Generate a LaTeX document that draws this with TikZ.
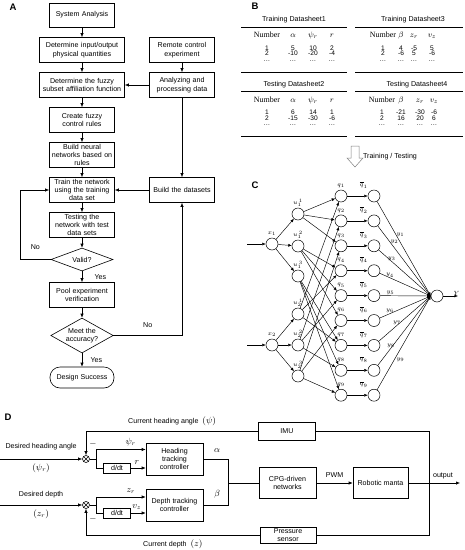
\documentclass[tikz,border=0pt]{standalone}
\usepackage{fontspec}
\setmainfont{Liberation Sans}
\newfontfamily\timesfont{Liberation Serif}
\usetikzlibrary{arrows.meta,shapes.geometric}

\begin{document}
\begin{tikzpicture}[x=1pt, y=-1pt, line width=0.6pt, >={Latex[length=4pt,width=3.4pt]}, font=\fontsize{7.1}{8.4}\selectfont]
    \useasboundingbox (0,0) rectangle (465,550);
    % Define styles
    \tikzstyle{box} = [draw, rectangle, minimum width=65pt, minimum height=25pt, text width=63pt, inner sep=0.5pt, align=center]
    \tikzstyle{widebox} = [box, minimum width=85pt, text width=83pt]
    \tikzstyle{decision} = [draw, diamond, aspect=2, minimum width=62pt, minimum height=23pt, inner sep=0pt, align=center]
    \tikzstyle{terminal} = [draw, rectangle, rounded corners=10pt, minimum width=64pt, minimum height=21pt, align=center]
    \tikzstyle{panel} = [font=\fontsize{9.5}{10}\selectfont\bfseries]
    \tikzstyle{ttl} = [font=\fontsize{7.1}{8}\selectfont]
    \tikzstyle{hdcell} = [anchor=base, inner sep=0pt, font=\timesfont\fontsize{8}{9}\selectfont]
    \tikzstyle{cell} = [anchor=base, inner sep=0pt, font=\fontsize{6.6}{7}\selectfont]
    \tikzstyle{tabrule} = [line width=0.7pt]
    \tikzstyle{neuron} = [draw, circle, minimum size=12pt, inner sep=0pt, line width=0.5pt]
    \tikzstyle{lbl} = [font=\fontsize{6}{7}\selectfont, inner sep=0.5pt]
    \tikzstyle{link} = [->, line width=0.45pt, >={Latex[length=3.5pt,width=3pt]}]
    \tikzstyle{blk} = [draw, rectangle, align=center, inner sep=1pt]
    \tikzstyle{sumnode} = [draw, circle, minimum size=7pt, inner sep=0pt, path picture={\draw[line width=0.5pt] (path picture bounding box.north west) -- (path picture bounding box.south east) (path picture bounding box.north east) -- (path picture bounding box.south west);}]
    \tikzstyle{sym} = [font=\fontsize{9}{10}\selectfont]

    % A: design flow
    \node[panel] (labA) at (13,7) {A};
    \node[box, minimum height=24pt] (sysan) at (82,15) {System Analysis};
    \node[widebox] (inout) at (82,50) {Determine input/output\\physical quantities};
    \node[widebox] (fuzzy) at (82,85) {Determine the fuzzy\\subset affiliation function};
    \node[box] (rules) at (82,120) {Create fuzzy\\control rules};
    \node[box] (buildnn) at (82,155) {Build neural\\networks based on\\rules};
    \node[box] (train) at (82,190) {Train the network\\using the training\\data set};
    \node[box] (testnn) at (82,225) {Testing the\\network with test\\data sets};
    \node[decision] (valid) at (82,259.5) {Valid?};
    \node[box] (pool) at (82,295) {Pool experiment\\verification};
    \node[decision, minimum height=35pt] (meet) at (82,335.5) {Meet the\\accuracy?};
    \node[terminal] (success) at (82,377.5) {Design Success};
    \node[box] (remote) at (182,50) {Remote control\\experiment};
    \node[box] (analyze) at (182,85) {Analyzing and\\processing data};
    \node[box] (datasets) at (182,190) {Build the datasets};
    \coordinate (noturn) at (20,259.5);

    \draw[->] (sysan) -- (inout);
    \draw[->] (inout) -- (fuzzy);
    \draw[->] (fuzzy) -- (rules);
    \draw[->] (rules) -- (buildnn);
    \draw[->] (buildnn) -- (train);
    \draw[->] (train) -- (testnn);
    \draw[->] (testnn) -- (valid);
    \draw[->] (valid) -- (pool) node[midway, right=9pt] {Yes};
    \draw[->] (pool) -- (meet);
    \draw[->] (meet) -- (success) node[midway, right=5pt] {Yes};
    \draw[->] (valid.west) -- (noturn) node[midway, above=6pt] {No} |- (train.west);
    \draw[->] (remote) -- (analyze);
    \draw[->] (analyze) -- (fuzzy);
    \draw[->] (analyze) -- (datasets);
    \draw[->] (datasets) -- (train);
    \draw[->] (meet.east) -| (datasets.south) node[pos=0.25, above=4pt] {No};

    % B: datasheets
    \node[panel] (labB) at (255,6) {B};
    \node[ttl] (titleA) at (294,20) {Training Datasheet1};
    \draw[tabrule] (241,27) -- (347,27) (241,72) -- (347,72);
    \foreach \cx/\hd/\ra/\rb [count=\col] in {267/Number/1/2, 293/$\alpha$/5/-10, 313/$\psi_r$/10/-20, 332/$r$/2/-4} {
        \node[hdcell] (ta\col) at (\cx,37.5) {\hd};
        \node[cell] (ta\col a) at (\cx,50) {\ra};
        \node[cell] (ta\col b) at (\cx,55.5) {\rb};
        \node[cell] (ta\col c) at (\cx,61) {\ldots};
    }
    \node[ttl] (titleB) at (294,84.5) {Testing Datasheet2};
    \draw[tabrule] (241,91.5) -- (347,91.5) (241,136.5) -- (347,136.5);
    \foreach \cx/\hd/\ra/\rb [count=\col] in {267/Number/1/2, 293/$\alpha$/6/-15, 313/$\psi_r$/14/-30, 332/$r$/1/-6} {
        \node[hdcell] (tb\col) at (\cx,102) {\hd};
        \node[cell] (tb\col a) at (\cx,114.5) {\ra};
        \node[cell] (tb\col b) at (\cx,120) {\rb};
        \node[cell] (tb\col c) at (\cx,125.5) {\ldots};
    }
    \node[ttl] (titleC) at (413,20) {Training Datasheet3};
    \draw[tabrule] (355,27) -- (463,27) (355,72) -- (463,72);
    \foreach \cx/\hd/\ra/\rb [count=\col] in {383/Number/1/2, 401/$\beta$/4/-6, 414/$z_r$/-5/5, 432/$v_z$/5/-6} {
        \node[hdcell] (tc\col) at (\cx,37.5) {\hd};
        \node[cell] (tc\col a) at (\cx,50) {\ra};
        \node[cell] (tc\col b) at (\cx,55.5) {\rb};
        \node[cell] (tc\col c) at (\cx,61) {\ldots};
    }
    \node[ttl] (titleD) at (417,84.5) {Testing Datasheet4};
    \draw[tabrule] (355,91.5) -- (463,91.5) (355,136.5) -- (463,136.5);
    \foreach \cx/\hd/\ra/\rb [count=\col] in {382/Number/1/2, 401/$\beta$/-21/16, 420/$z_r$/-30/20, 434/$v_z$/-6/6} {
        \node[hdcell] (td\col) at (\cx,102) {\hd};
        \node[cell] (td\col a) at (\cx,114.5) {\ra};
        \node[cell] (td\col b) at (\cx,120) {\rb};
        \node[cell] (td\col c) at (\cx,125.5) {\ldots};
    }
    % hollow arrow
    \draw[gray, fill=white, line width=0.5pt] (351,146) -- (359,146) -- (359,158) -- (363,158) -- (355,167) -- (347,158) -- (351,158) -- cycle;
    \node[ttl] (ttlabel) at (390,157) {Training / Testing};

    % C: fuzzy neural network
    \node[panel] (labC) at (255,185) {C};
    \node[neuron, label={[lbl, label distance=1pt]above:$x_1$}] (x1) at (272,244) {};
    \node[neuron, label={[lbl, label distance=1pt]above:$x_2$}] (x2) at (272,345) {};
    \foreach \j/\ya/\yb in {1/214/314, 2/246/345, 3/276/376} {
        \node[neuron, label={[lbl]above:$u_{1}^{\,\j}$}] (u1\j) at (298,\ya) {};
        \node[neuron, label={[lbl]above:$u_{2}^{\,\j}$}] (u2\j) at (298,\yb) {};
    }
    \foreach \i in {1,...,9} {
        \node[neuron, label={[lbl, label distance=1.5pt]above:$q_{\i}$}] (q\i) at (341,{196+24.9*(\i-1)}) {};
        \node[neuron] (qb\i) at (374,{196+24.9*(\i-1)}) {};
        \draw[link] (q\i) -- (qb\i) node[lbl, pos=0.8, above=7pt] {$\overline{q}_{\i}$};
    }
    \node[neuron] (yout) at (437,296) {};
    \coordinate (in1) at (247,244);
    \coordinate (in2) at (247,345);
    \coordinate (yend) at (458,296);
    \draw[link] (in1) -- (x1);
    \draw[link] (in2) -- (x2);
    \foreach \j in {1,2,3} {
        \draw[link] (x1) -- (u1\j);
        \draw[link] (x2) -- (u2\j);
        \foreach \k in {1,2,3} {
            \pgfmathtruncatemacro{\qa}{3*(\j-1)+\k}
            \pgfmathtruncatemacro{\qb}{3*(\k-1)+\j}
            \draw[link] (u1\j) -- (q\qa);
            \draw[link] (u2\j) -- (q\qb);
        }
    }
    \foreach \i/\ps/\anc in {1/0.35/west, 2/0.23/west, 3/0.25/south, 4/0.2/south, 5/0.2/south, 6/0.2/south, 7/0.35/south, 8/0.25/south, 9/0.35/north west}
        \draw[link] (qb\i) -- (yout.west) node[lbl, pos=\ps, anchor=\anc] {$y_{\i}$};
    \draw[link] (yout) -- (yend) node[lbl, pos=0.9, above] {$Y$};

    % D: control loop
    \node[panel] (labD) at (8,417) {D};
    \node[sumnode] (s1) at (86,459) {};
    \node[sumnode] (s2) at (86,505) {};
    \node[blk, minimum width=27pt, minimum height=10pt] (dd1) at (117,468) {d/dt};
    \node[blk, minimum width=27pt, minimum height=10pt] (dd2) at (117,513) {d/dt};
    \node[blk, minimum width=57pt, minimum height=32pt] (hc) at (174.5,459) {Heading\\tracking\\controller};
    \node[blk, minimum width=57pt, minimum height=32pt] (dc) at (174.5,505) {Depth tracking\\controller};
    \node[blk, minimum width=57pt, minimum height=18pt] (imu) at (287,431) {IMU};
    \node[blk, minimum width=57pt, minimum height=31pt] (cpg) at (287.5,483) {CPG-driven\\networks};
    \node[blk, minimum width=55pt, minimum height=31pt] (manta) at (380.5,483) {Robotic manta};
    \node[blk, minimum width=56pt, minimum height=16pt] (press) at (288,535) {Pressure\\sensor};
    \node[sym] (m1) at (93,444) {$-$};
    \node[sym] (m2) at (93,519) {$-$};
    \coordinate (hin) at (0,459);
    \coordinate (din) at (0,505);
    \coordinate (br1) at (96,459);
    \coordinate (br2) at (96,505);
    \coordinate (mix) at (228,483);
    \coordinate (fbtop) at (429,431);
    \coordinate (fbbot) at (429,535);
    \coordinate (outp) at (460,483);

    \draw[->] (hin) -- (s1) node[midway, above=5pt] {Desired heading angle} node[midway, below=1pt, sym] {$(\psi_r)$};
    \draw[->] (din) -- (s2) node[midway, above=3.5pt] {Desired depth} node[midway, below=1pt, sym] {$(z_r)$};
    \draw (s1) -- (br1);
    \draw[->] (br1) |- ([yshift=9.5pt]hc.west) node[pos=0.85, above, sym] {$\psi_r$};
    \draw (br1) |- (dd1.west);
    \draw[->] (dd1) -- ([yshift=-9pt]hc.west) node[pos=0.4, above, sym] {$r$};
    \draw (s2) -- (br2);
    \draw[->] (br2) |- ([yshift=8pt]dc.west) node[pos=0.85, above, sym] {$z_r$};
    \draw (br2) |- (dd2.west);
    \draw[->] (dd2) -- ([yshift=-8pt]dc.west) node[pos=0.4, above, sym] {$v_z$};
    \draw (hc.east) -| (mix) node[pos=0.28, above=3pt, sym] {$\alpha$};
    \draw (dc.east) -| (mix) node[pos=0.28, above=3pt, sym] {$\beta$};
    \draw (mix) -- (cpg);
    \draw[->] (cpg) -- (manta) node[midway, above=1.5pt] {PWM};
    \draw[->] (manta) -- (outp) node[pos=0.67, above] {output};
    \draw (imu.east) -- (fbtop) -- (fbbot) -- (press.east);
    \draw[->] (imu.west) -| (s1.north) node[pos=0.25, above=2pt] {Current heading angle \ {\fontsize{9}{10}\selectfont$(\psi)$}};
    \draw[->] (press.west) -| (s2.south) node[pos=0.25, below=1pt] {Current depth \ {\fontsize{9}{10}\selectfont$(z)$}};
\end{tikzpicture}
\end{document}
